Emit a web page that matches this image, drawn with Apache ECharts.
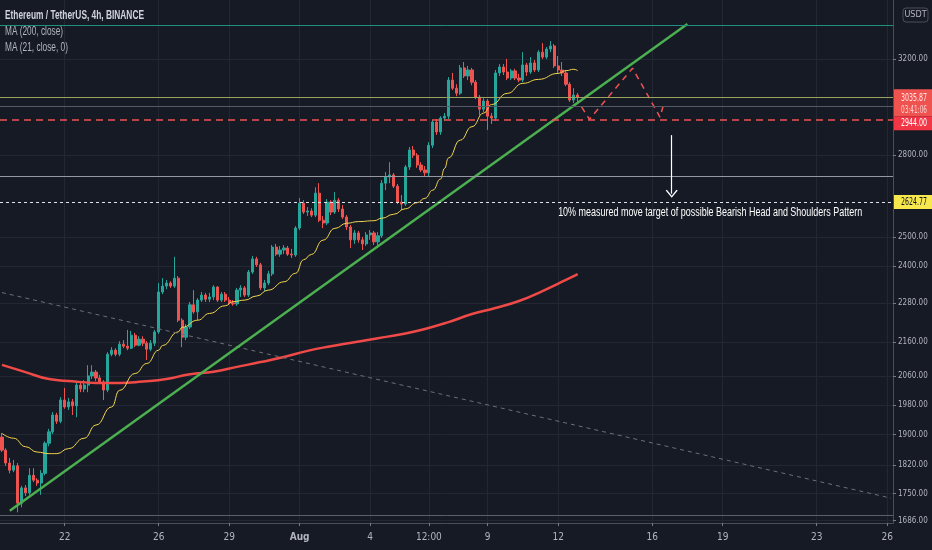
<!DOCTYPE html>
<html>
<head>
<meta charset="utf-8">
<title>ETHUSDT 4h</title>
<script src="https://cdn.jsdelivr.net/npm/echarts@6/dist/echarts.min.js"></script>
<style>
html,body{margin:0;padding:0;background:#161a25;}
#main{width:932px;height:550px;}
</style>
</head>
<body>
<div id="main"></div>
<script>
// 4h candles from 07-19 08:00, [open, close, low, high]
var candles = [
[1893,1859,1854,1904],[1859,1826,1819,1864],[1826,1808,1800,1839],[1808,1819,1803,1834],[1819,1727,1705,1826],
[1727,1764,1717,1769],[1764,1752,1744,1771],[1752,1795,1747,1813],[1795,1783,1778,1813],[1783,1776,1769,1788],
[1776,1800,1747,1808],[1800,1877,1795,1882],[1877,1907,1869,1915],[1907,1952,1901,1960],[1952,1935,1928,1958],
[1935,1993,1930,2001],[1993,1974,1969,2027],[1974,1988,1966,1999],[1988,1977,1952,1996],[1977,2035,1946,2041],
[2035,2024,2015,2044],[2024,2035,2015,2049],[2035,2061,2015,2092],[2061,2072,2052,2092],[2072,2055,2046,2078],
[2055,2044,2038,2064],[2044,2021,1993,2049],[2021,2124,2015,2130],[2124,2136,2118,2145],[2136,2124,2118,2142],
[2124,2154,2118,2163],[2154,2148,2142,2166],[2148,2142,2136,2197],[2142,2181,2139,2194],[2181,2151,2145,2188],
[2151,2169,2148,2178],[2169,2157,2148,2178],[2157,2139,2107,2163],[2139,2157,2133,2166],[2157,2191,2148,2197],
[2191,2316,2185,2345],[2316,2335,2309,2361],[2335,2345,2325,2355],[2345,2335,2329,2351],[2335,2361,2329,2432],
[2361,2227,2221,2368],[2227,2175,2145,2233],[2175,2206,2166,2215],[2206,2275,2200,2284],[2275,2253,2247,2322],
[2253,2290,2227,2296],[2290,2306,2284,2316],[2306,2293,2284,2313],[2293,2300,2284,2313],[2300,2332,2290,2338],
[2332,2290,2284,2335],[2290,2309,2284,2316],[2309,2290,2284,2316],[2290,2281,2275,2300],[2281,2278,2272,2290],
[2278,2322,2272,2329],[2322,2329,2300,2338],[2329,2306,2300,2335],[2306,2381,2300,2388],[2381,2425,2375,2435],
[2425,2405,2398,2432],[2405,2329,2322,2412],[2329,2345,2319,2355],[2345,2375,2338,2385],[2375,2465,2368,2472],
[2465,2441,2435,2476],[2441,2455,2432,2469],[2455,2462,2441,2472],[2462,2441,2435,2469],[2441,2438,2428,2459],
[2438,2531,2432,2538],[2531,2620,2524,2639],[2620,2588,2581,2631],[2588,2592,2574,2606],[2592,2577,2570,2602],
[2577,2657,2570,2679],[2657,2559,2552,2694],[2559,2549,2531,2574],[2549,2624,2542,2635],[2624,2588,2577,2631],
[2588,2631,2581,2661],[2631,2599,2588,2639],[2599,2570,2563,2613],[2570,2535,2524,2577],[2535,2490,2462,2542],
[2490,2514,2476,2524],[2514,2490,2480,2521],[2490,2476,2455,2500],[2476,2507,2469,2517],[2507,2514,2490,2524],
[2514,2483,2472,2521],[2483,2504,2462,2517],[2504,2694,2497,2706],[2694,2717,2668,2736],[2717,2725,2694,2774],
[2725,2683,2676,2732],[2683,2624,2617,2691],[2624,2617,2595,2650],[2617,2755,2610,2763],[2755,2821,2744,2833],
[2821,2801,2790,2837],[2801,2763,2752,2809],[2763,2744,2736,2774],[2744,2733,2721,2759],[2733,2840,2721,2852],
[2840,2933,2829,2941],[2933,2893,2881,2945],[2893,2949,2881,2957],[2949,2957,2937,2970],[2957,3109,2945,3122],
[3109,3074,3066,3140],[3074,3053,3040,3091],[3053,3162,3045,3175],[3162,3127,3118,3188],[3127,3153,3109,3171],
[3153,3100,3087,3162],[3100,3036,3028,3109],[3036,2986,2961,3045],[2986,3020,2974,3032],[3020,2957,2901,3028],
[2957,2949,2925,2970],[2949,3140,2937,3153],[3140,3166,3127,3179],[3166,3144,3131,3179],[3144,3118,3109,3202],
[3118,3149,3109,3158],[3149,3118,3109,3158],[3118,3109,3100,3136],[3109,3175,3100,3232],[3175,3144,3127,3184],
[3144,3184,3136,3210],[3184,3153,3144,3197],[3153,3232,3144,3241],[3232,3210,3201,3273],[3210,3246,3201,3255],
[3246,3260,3232,3282],[3260,3171,3162,3269],[3171,3153,3140,3215],[3153,3140,3127,3188],[3140,3091,3083,3153],
[3091,3024,3016,3100],[3024,3045,3011,3074],[3045,3035.87,3011,3053]
];

// moving averages (bar index -> value)
var ma200Idx = [0,6,12,18,24,30,36,42,48,54,60,66,72,78,84,90,96,102,108,114,120,126,132,138,144,147];
var ma200Val = [2093,2072,2052,2046,2041,2041,2045,2052,2066,2073,2087,2101,2116,2134,2148,2160,2172,2184,2200,2221,2246,2265,2287,2319,2355,2374];
var ma21Idx = [0,3,6,9,12,14,17,21,24,28,30,34,37,40,41,45,46,50,53,57,59,62,65,68,72,75,77,79,82,85,88,91,95,97,100,103,106,108,110,112,113,114,117,120,123,125,129,133,137,142,144,146,147];
var ma21Val = [1903,1890,1868,1854,1850,1850,1863,1890,1925,1974,2020,2068,2097,2136,2150,2191,2205,2227,2248,2272,2285,2290,2303,2322,2349,2377,2422,2440,2489,2530,2548,2554,2557,2566,2580,2600,2622,2638,2668,2710,2750,2790,2860,2914,2970,3005,3052,3095,3112,3138,3150,3156,3150];

// drawings
var trendUpIdx = [2,175], trendUpVal = [1709,3361];
var trendDownIdx = [0,227], trendDownVal = [2314,1739];
var patternIdx = [148,150,161,168,169], patternVal = [2995,2944,3161,2953,3009];
var arrowIdx = 171, arrowFrom = 2880, arrowTo = 2655;
var noteIdx = 142, notePrice = 2584;
var noteText = '10% measured move target of possible Bearish Head and Shoulders Pattern';

var levelTop = 3356, lastPrice = 3035.87, levelGray = 2999, neckline = 2944;
var levelMid = 2721, target = 2624.77, levelLow = 1699;
var countdown = '03:41:06';

var yTicks = [1686,1750,1820,1900,1980,2060,2160,2280,2400,2500,2800,3200];
var xTickCats = ['07-22 00:00','07-26 00:00','07-29 00:00','08-01 00:00','08-04 00:00','08-06 12:00','08-09 00:00','08-12 00:00','08-16 00:00','08-19 00:00','08-23 00:00','08-26 00:00'];
var xTickLabels = ['22','26','29','Aug','4','12:00','9','12','16','19','23','26'];

var startTime = Date.UTC(2021, 6, 19, 8);
var barCount = 228;
function pad(n){ return n < 10 ? '0' + n : '' + n; }
var categories = [];
for (var i = 0; i < barCount; i++) {
	var d = new Date(startTime + i * 4 * 3600 * 1000);
	categories.push(pad(d.getUTCMonth() + 1) + '-' + pad(d.getUTCDate()) + ' ' + pad(d.getUTCHours()) + ':00');
}

function pairs(idx, val){
	var out = [];
	for (var k = 0; k < idx.length; k++) out.push([idx[k], val[k]]);
	return out;
}
function isTick(index, value){ return xTickCats.indexOf(value) >= 0; }

var NARROW = "'Liberation Sans Narrow','DejaVu Sans Condensed','Arial Narrow','Liberation Sans',sans-serif";
var BASE_FONT = "'Liberation Sans',Arial,sans-serif";
var BG = '#161a25', GRID = '#232733', TXT = '#b2b5be';
var UP = '#26a69a', DOWN = '#ef5350';

// pick a label size so "3200.00" fits the narrow price scale
var measureCtx = document.createElement('canvas').getContext('2d');
measureCtx.font = '11px ' + NARROW;
var axisFont = Math.min(11, Math.floor(11 * 31.5 / measureCtx.measureText('3200.00').width * 2) / 2);

var chevron = 'path://M0,10L6,0L12,10L10.8,11L6,2.6L1.2,11Z';

var chart = echarts.init(document.getElementById('main'));
var option = {
	backgroundColor: BG,
	animation: false,
	grid: {left: 0, right: 39, top: 0, bottom: 27, outerBoundsMode: 'none', containLabel: false},
	xAxis: {
		type: 'category',
		data: categories,
		boundaryGap: true,
		axisLine: {show: true, lineStyle: {color: '#4a4e59'}},
		axisTick: {show: true, length: 3, interval: isTick, alignWithLabel: true, lineStyle: {color: '#787b86'}},
		axisLabel: {
			interval: isTick, color: TXT, fontSize: 10, fontFamily: NARROW, margin: 9,
			formatter: function(v){
				var k = xTickCats.indexOf(v);
				if (k < 0) return '';
				return xTickLabels[k] == 'Aug' ? '{b|Aug}' : xTickLabels[k];
			},
			rich: {b: {fontWeight: 'bold', color: TXT, fontSize: 10, fontFamily: NARROW}}
		},
		splitLine: {show: true, interval: isTick, alignWithLabel: true, lineStyle: {color: GRID}}
	},
	yAxis: {
		type: 'log',
		position: 'right',
		min: 1680,
		max: 3475,
		axisLine: {show: true, lineStyle: {color: '#4a4e59'}},
		axisTick: {show: true, length: 3, customValues: yTicks, lineStyle: {color: '#787b86'}},
		axisLabel: {
			customValues: yTicks, color: TXT, fontSize: axisFont, fontFamily: NARROW, margin: 5,
			formatter: function(v){ return Number(v).toFixed(2); }
		},
		splitLine: {show: true, lineStyle: {color: GRID}}
	},
	series: [
		{
			name: 'ETHUSDT', type: 'candlestick', data: candles, barWidth: '70%',
			itemStyle: {color: UP, color0: DOWN, borderColor: UP, borderColor0: DOWN, borderWidth: 1},
			markLine: {
				silent: true, symbol: ['none', 'none'], label: {show: false}, animation: false,
				data: [
					{yAxis: levelTop, lineStyle: {color: '#1f8f80', width: 1, type: 'solid'}},
					{yAxis: lastPrice, lineStyle: {color: '#9aa45e', width: 1, type: 'solid'}},
					{yAxis: levelGray, lineStyle: {color: '#565a66', width: 1, type: 'solid'}},
					{yAxis: neckline, lineStyle: {color: '#f05350', width: 1.5, type: [7, 5]}},
					{yAxis: levelMid, lineStyle: {color: '#9598a1', width: 1, type: 'solid'}},
					{yAxis: target, lineStyle: {color: '#e0e3eb', width: 1, type: [3, 3]}},
					{yAxis: levelLow, lineStyle: {color: '#5d606b', width: 1, type: 'solid'}}
				]
			}
		},
		{
			name: 'MA (200, close)', type: 'line', data: pairs(ma200Idx, ma200Val), smooth: true,
			showSymbol: false, silent: true, lineStyle: {color: '#ef4a47', width: 2.5}
		},
		{
			name: 'MA (21, close, 0)', type: 'line', data: pairs(ma21Idx, ma21Val), smooth: true, smoothMonotone: 'x',
			showSymbol: false, silent: true, lineStyle: {color: '#f2d44e', width: 1}
		},
		{
			name: 'trend down', type: 'line', data: pairs(trendDownIdx, trendDownVal),
			showSymbol: false, silent: true, lineStyle: {color: '#6b6f7a', width: 1, type: [4, 4]}
		},
		{
			name: 'trend up', type: 'line', data: pairs(trendUpIdx, trendUpVal),
			showSymbol: false, silent: true, lineStyle: {color: '#4caf50', width: 2.5},
			markLine: {
				silent: true, animation: false, label: {show: false},
				lineStyle: {color: '#ffffff', width: 1.2, type: 'solid'},
				data: [[
					{coord: [arrowIdx, arrowFrom], symbol: 'none'},
					{coord: [arrowIdx, arrowTo], symbol: chevron, symbolSize: [12, 8]}
				]]
			}
		},
		{
			name: 'pattern', type: 'line', data: pairs(patternIdx, patternVal),
			showSymbol: false, silent: true, lineStyle: {color: '#f05350', width: 1.5, type: [6, 5]}
		}
	]
};
chart.setOption(option);

// text and price tags, placed through the chart's own coordinates
function fitText(text, x, y, width, size, weight, color, family){
	family = family || BASE_FONT;
	measureCtx.font = weight + ' ' + size + 'px ' + family;
	var w = measureCtx.measureText(text).width;
	return {
		type: 'text', x: x, y: y, scaleX: width / w, z: 120, silent: true,
		style: {text: text, fill: color, fontSize: size, fontWeight: weight, fontFamily: family, align: 'left', verticalAlign: 'middle'}
	};
}
function py(v){ return chart.convertToPixel({gridIndex: 0}, [0, v])[1]; }
function box(y0, h, fill){
	return {type: 'rect', shape: {x: 894, y: y0, width: 38, height: h}, style: {fill: fill}, z: 110, silent: true};
}

var yLast = py(lastPrice), yNeck = py(neckline), yTarget = py(target);
var notePos = chart.convertToPixel({gridIndex: 0}, [noteIdx, notePrice]);
var graphics = [
	fitText('Ethereum / TetherUS, 4h, BINANCE', 5, 16, 139, 12, 'bold', '#d1d4dc'),
	fitText('MA (200, close)', 5, 32, 58, 12, 'normal', TXT),
	fitText('MA (21, close, 0)', 5, 48, 63, 12, 'normal', TXT),
	fitText(noteText, notePos[0], notePos[1], 304, 12, 'normal', '#ffffff'),
	{type: 'rect', shape: {x: 903, y: 8, width: 25, height: 14, r: 3}, style: {fill: BG, stroke: '#4a4e59', lineWidth: 1}, z: 100, silent: true},
	{type: 'text', x: 915.5, y: 15, z: 101, silent: true, style: {text: 'USDT', fill: TXT, fontSize: 9, fontFamily: NARROW, align: 'center', verticalAlign: 'middle'}},
	// last price + countdown
	box(yLast - 8, 27, '#ef5350'),
	fitText(lastPrice.toFixed(2), 901, yLast + 1, 26, 11, 'normal', '#ffe3e3', NARROW),
	fitText(countdown, 901, yLast + 13, 26, 11, 'normal', '#ffd0d0', NARROW),
	// neckline tag, pushed just below the last-price tag
	box(yNeck - 3, 14, '#f23645'),
	fitText(neckline.toFixed(2), 901, yNeck + 4, 26, 11, 'normal', '#ffffff', NARROW),
	// target tag
	box(yTarget - 7, 14, '#f7e84e'),
	fitText(target.toFixed(2), 901, yTarget, 26, 11, 'normal', '#131722', NARROW)
];
chart.setOption({graphic: graphics});
</script>
</body>
</html>
